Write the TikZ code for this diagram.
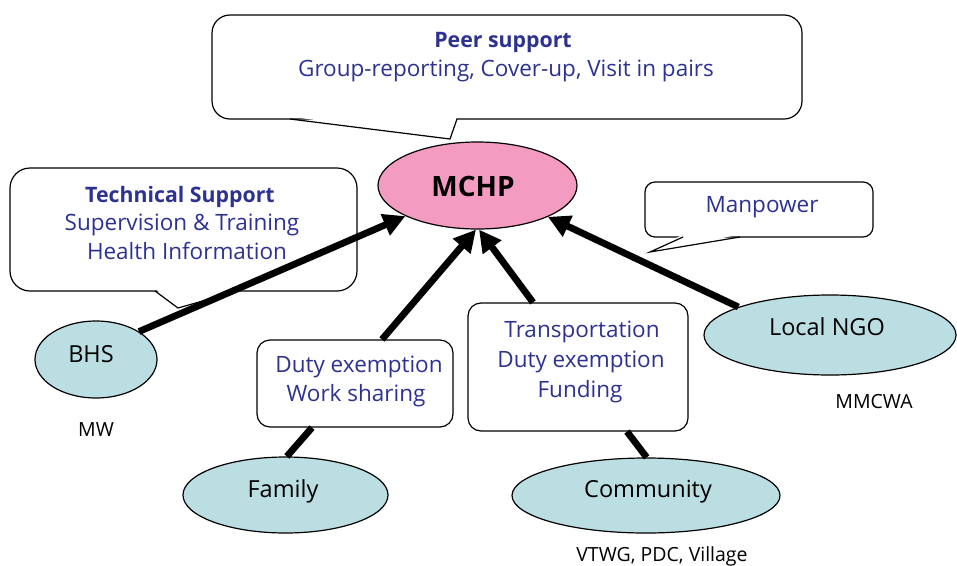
\documentclass[tikz,border=0pt]{standalone}
\usepackage{fontspec}
\setmainfont{Open Sans}
\usetikzlibrary{arrows.meta,shapes.geometric}
\definecolor{txtblue}{RGB}{45,50,145}
\definecolor{mchppink}{RGB}{244,155,193}
\definecolor{actorblue}{RGB}{187,222,226}

\begin{document}
\begin{tikzpicture}[x=1pt,y=-1pt,
  callout/.style={draw=black, line width=1.2pt, fill=white},
  tailline/.style={line width=1.2pt, line join=miter},
  actor/.style={ellipse, draw=black, line width=1.2pt, fill=actorblue, inner sep=0pt},
  aidbox/.style={rectangle, rounded corners=13pt, draw=black, line width=1.2pt, fill=white, inner sep=0pt},
  blue text/.style={text=txtblue, font=\fontsize{22.5}{26}\selectfont, anchor=base, inner sep=0pt},
  head text/.style={blue text, font=\fontsize{21.3}{25}\selectfont\bfseries},
  actor text/.style={anchor=base, inner sep=0pt, font=\fontsize{23.5}{27}\selectfont},
  note text/.style={anchor=base, inner sep=0pt, font=\fontsize{19.5}{23}\selectfont},
  flow/.style={line width=6.8pt, -{Triangle[width=22pt,length=22pt]}},
  tie/.style={line width=6.8pt}
]
\fill[white] (0,0) rectangle (957,565);
\useasboundingbox (0,0) rectangle (957,565);

% speech bubbles
\draw[callout, rounded corners=18pt] (212,15) rectangle (802,119);
\fill[white] (290,116.5) -- (450,139) -- (457,116.5) -- cycle;
\draw[tailline] (290,119) -- (450,139) -- (457,119);

\draw[callout, rounded corners=20pt] (10,168) rectangle (357,291);
\fill[white] (155,288.5) -- (178,308) -- (238,288.5) -- cycle;
\draw[tailline] (155,291) -- (178,308) -- (238,291);

\draw[callout, rounded corners=10pt] (645,182) rectangle (873,237);
\fill[white] (683,234.5) -- (650,252) -- (740,234.5) -- cycle;
\draw[tailline] (683,237) -- (650,252) -- (740,237);

% actors
\node[actor, fill=mchppink, minimum width=199pt, minimum height=87pt] (mchp) at (477.5,185.5) {};
\node[actor, minimum width=122pt, minimum height=77pt] (bhs) at (96,359.5) {};
\node[actor, minimum width=205pt, minimum height=76pt] (family) at (285.5,495) {};
\node[actor, minimum width=268pt, minimum height=75pt] (community) at (646,495.5) {};
\node[actor, minimum width=252pt, minimum height=80pt] (ngo) at (830,335) {};

% support boxes
\node[aidbox, minimum width=196pt, minimum height=87pt] (duty) at (355,383.5) {};
\node[aidbox, minimum width=220pt, minimum height=128pt] (transport) at (578,367) {};

% connectors
\draw[flow] (bhs.33) -- (mchp.203);
\draw[flow] ([xshift=27pt]duty.north) -- (mchp.268);
\draw[flow] ([xshift=-45pt]transport.north) -- (mchp.272);
\draw[flow] (ngo.163) -- (mchp.336);
\draw[tie] (family.88) -- ([xshift=-43pt]duty.south);
\draw[tie] (community.89) -- ([xshift=49pt]transport.south);

% texts
\node[head text] (peerhead) at (503,47) {Peer support};
\node[blue text] (peerline) at (506,76) {Group-reporting, Cover-up, Visit in pairs};
\node[head text] (techhead) at (180,202) {Technical Support};
\node[blue text] (techa) at (182,230) {Supervision \& Training};
\node[blue text] (techb) at (187,259) {Health Information};
\node[blue text] (manpower) at (762,212) {Manpower};
\node[blue text] (dutya) at (359,372) {Duty exemption};
\node[blue text] (dutyb) at (356,401) {Work sharing};
\node[blue text] (tra) at (582,337) {Transportation};
\node[blue text] (trb) at (581,367) {Duty exemption};
\node[blue text] (trc) at (580,397) {Funding};

\node[actor text, font=\fontsize{28}{32}\selectfont\bfseries] (mchplabel) at (473,196) {MCHP};
\node[actor text] (bhslabel) at (91,362) {BHS};
\node[actor text] (familylabel) at (283,497) {Family};
\node[actor text] (communitylabel) at (648,497) {Community};
\node[actor text] (ngolabel) at (827,335) {Local NGO};

\node[note text] (mw) at (96,436) {MW};
\node[note text] (mmcwa) at (874,408) {MMCWA};
\node[note text] (vtwg) at (662,561) {VTWG, PDC, Village};
\end{tikzpicture}
\end{document}
